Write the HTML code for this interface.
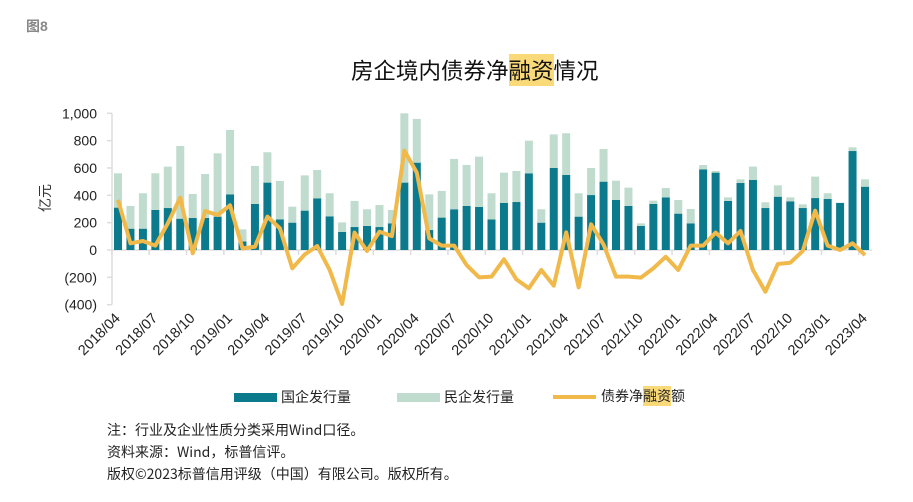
<!DOCTYPE html>
<html><head><meta charset="utf-8"><style>
body{margin:0;background:#fff;width:913px;height:502px;overflow:hidden;font-family:"Liberation Sans","Noto Sans CJK SC",sans-serif;position:relative}
.hl{background:#f9d978}
#title{position:absolute;left:351px;top:56px;font-size:22.5px;line-height:28px;color:#111;font-family:"Noto Sans CJK SC",sans-serif;white-space:nowrap}
#legnet{position:absolute;left:601px;top:386px;font-size:14px;line-height:20px;color:#222;font-family:"Noto Sans CJK SC",sans-serif;white-space:nowrap}
</style></head><body>
<svg width="913" height="502" xmlns="http://www.w3.org/2000/svg" style="position:absolute;left:0;top:0">
<text x="26" y="31" font-size="14" font-weight="bold" fill="#888" font-family="Liberation Sans,Noto Sans CJK SC,sans-serif">图8</text>
<g id="axes"></g>
<g id="bars"></g>
<g id="line"></g>
<text x="0" y="0" font-size="14" fill="#333" font-family="Noto Sans CJK SC,sans-serif" transform="translate(50,212) rotate(-90)">亿元</text>
<g font-family="Noto Sans CJK SC,sans-serif" font-size="14" fill="#222">
<g><rect x="234" y="393" width="43" height="9" fill="#0a7a8c"/><text x="281" y="402">国企发行量</text></g>
<g><rect x="397" y="393" width="43" height="9" fill="#bfdcce"/><text x="444" y="402">民企发行量</text></g>
<g><line x1="553" y1="397" x2="596" y2="397" stroke="#f0b94a" stroke-width="4"/></g>
</g>
<g font-family="Noto Sans CJK SC,sans-serif" font-size="14" fill="#222">
<text x="107" y="435">注：行业及企业性质分类采用Wind口径。</text>
<text x="107" y="457">资料来源：Wind，标普信评。</text>
<text x="107" y="479">版权©2023标普信用评级（中国）有限公司。版权所有。</text>
</g>
</svg>
<div id="title">房企境内债券净<span class="hl">融资</span>情况</div>
<div id="legnet">债券净<span class="hl">融资</span>额</div>
<script>
const soe=[310,156,156,293,307,229,234,234,244,407,63,337,493,224,200,288,378,246,132,168,176,168,195,493,639,146,237,298,322,315,224,344,351,561,200,600,549,244,402,500,366,322,176,337,385,266,195,590,566,359,490,512,307,390,356,307,380,373,344,724,463];
const priv=[251,166,259,268,303,532,176,322,463,471,88,278,222,281,117,258,207,169,70,191,122,161,98,507,320,261,195,368,300,368,191,222,227,239,98,246,305,171,198,239,141,134,19,24,69,100,105,32,12,26,27,98,42,83,29,27,157,42,2,27,54];
const net=[366,49,66,32,195,383,-24,285,256,327,12,24,244,159,-134,-32,29,-146,-395,127,-7,134,102,727,566,85,32,32,-110,-200,-195,-68,-215,-280,-146,-261,129,-273,188,40,-195,-195,-202,-134,-49,-146,32,32,127,49,139,-146,-305,-102,-93,-7,288,32,0,49,-37];
const yTicks=[1000,800,600,400,200,0,-200,-400];
const yLabels=["1,000","800","600","400","200","0","(200)","(400)"];
const xLabels=["2018/04","2018/07","2018/10","2019/01","2019/04","2019/07","2019/10","2020/01","2020/04","2020/07","2020/10","2021/01","2021/04","2021/07","2021/10","2022/01","2022/04","2022/07","2022/10","2023/01","2023/04"];
const NS="http://www.w3.org/2000/svg";
const y=v=>250-v*0.1367;
const x=i=>118+i*12.45;
function mk(tag,attrs,parent){const e=document.createElementNS(NS,tag);for(const k in attrs)e.setAttribute(k,attrs[k]);parent.appendChild(e);return e;}
const ax=document.getElementById('axes');
let yl=mk('line',{x1:112,y1:y(1000),x2:112,y2:y(-400),stroke:'#ddd','stroke-width':1.5},ax);


yTicks.forEach((v,k)=>{
 const t=mk('line',{x1:107,x2:112,y1:y(v),y2:y(v),stroke:'#ddd','stroke-width':1.5},ax);
 
 
 const tx=mk('text',{x:97,y:y(v)+5,'text-anchor':'end','font-size':14,fill:'#222','font-family':'Liberation Sans,sans-serif'},ax);
 tx.textContent=yLabels[k];
 
 
});
let xl=mk('line',{x1:112,y1:250,x2:872,y2:250,stroke:'#ddd','stroke-width':1.5},ax);


for(let i=0;i<=soe.length;i+=3){
 const t=mk('line',{x1:x(i)-6.2,x2:x(i)-6.2,y1:250,y2:255,stroke:'#ddd','stroke-width':1.5},ax);
 
 
}
xLabels.forEach((l,k)=>{
 const px=x(k*3)+3, py=319;
 const tx=mk('text',{x:px,y:py,'text-anchor':'end','font-size':14.5,fill:'#222','font-family':'Liberation Sans,sans-serif',transform:`rotate(-45 ${px} ${py})`},ax);
 tx.textContent=l;
 
 
});
const bg=document.getElementById('bars');
soe.forEach((v,i)=>{
 const b1=mk('rect',{x:x(i)-4,y:y(v),width:8,height:250-y(v),fill:'#0a7a8c'},bg);
 
 
 const b2=mk('rect',{x:x(i)-4,y:y(v+priv[i]),width:8,height:y(v)-y(v+priv[i]),fill:'#bfdcce'},bg);
 
 
});
const pl=mk('polyline',{points:net.map((v,i)=>x(i)+','+y(v)).join(' '),fill:'none',stroke:'#f0b94a','stroke-width':4,'stroke-linejoin':'round'},document.getElementById('line'));


</script>
</body></html>
